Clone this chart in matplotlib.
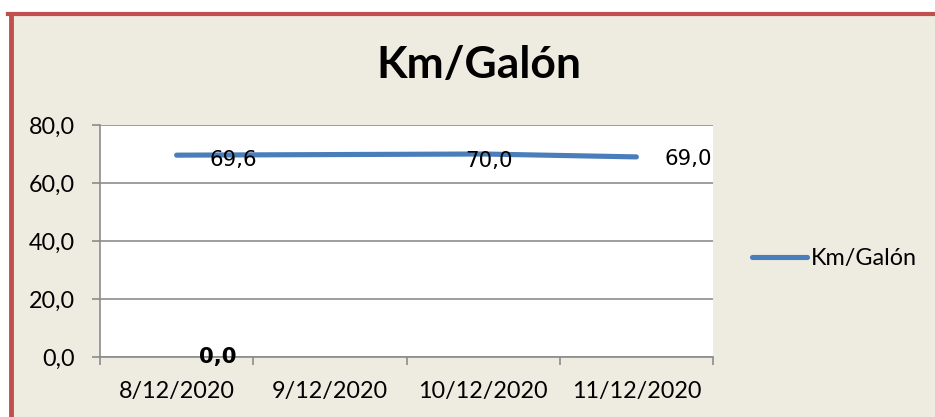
import matplotlib.pyplot as plt
from matplotlib.patches import Rectangle
from matplotlib.lines import Line2D

fechas = ['8/12/2020', '9/12/2020', '10/12/2020', '11/12/2020']
km_galon = [69.6, 69.8, 70.0, 69.0]
etiquetas = ['69,6', '', '70,0', '69,0']
y_ticks = [0, 20, 40, 60, 80]
y_labels = ['0,0', '20,0', '40,0', '60,0', '80,0']

fondo = '#EEEBE0'
azul = '#4A7EBB'
rojo = '#C0504D'
gris = '#8C8C8C'

W, H = 935, 417
fig = plt.figure(figsize=(W / 100, H / 100), dpi=100, facecolor='white')

# chart area background and red border (top + left)
fig.patches.append(Rectangle((10 / W, 0), 1, 1 - 13 / H, transform=fig.transFigure,
                             facecolor=fondo, edgecolor='none', zorder=-2))
fig.lines.append(Line2D([8 / W, 1], [1 - 13.5 / H] * 2, transform=fig.transFigure,
                        color=rojo, lw=3, zorder=-1))
fig.lines.append(Line2D([10.5 / W] * 2, [0, 1 - 13.5 / H], transform=fig.transFigure,
                        color=rojo, lw=3.5, zorder=-1))

ax = fig.add_axes([100 / W, 1 - 357 / H, 613 / W, 232 / H])
ax.set_facecolor('white')

x = list(range(len(fechas)))
ax.plot(x, km_galon, color=azul, lw=3.7, solid_capstyle='round', label='Km/Galón', zorder=3)

offsets = [(41, -3.6), (0, 0), (4.3, -5), (37, -1.5)]
for xi, yi, lab, off in zip(x, km_galon, etiquetas, offsets):
    if lab:
        ax.annotate(lab, (xi, yi), xytext=off, textcoords='offset points',
                    ha='center', va='center', fontsize=15.3, family='DejaVu Sans', zorder=4)
ax.text(0.27, 0, '0,0', ha='center', va='center', fontsize=15.3, fontweight='bold',
        family='DejaVu Sans', zorder=4)

ax.set_xlim(-0.5, len(fechas) - 0.5)
ax.set_ylim(0, 80)
ax.set_yticks(y_ticks)
ax.set_yticklabels(y_labels, family='Lato', fontsize=16.8)
ax.set_xticks(x)
ax.set_xticklabels(fechas, family='Lato', fontsize=16.8)
ax.set_xticks([i - 0.5 for i in range(len(fechas) + 1)], minor=True)
ax.tick_params(axis='x', which='major', length=0, pad=17)
ax.tick_params(axis='x', which='minor', length=6, color=gris, width=1.2)
ax.tick_params(axis='y', length=6, color=gris, width=1.2, pad=12)
ax.grid(axis='y', color=gris, lw=1.2)
ax.set_axisbelow(True)
for s in ['top', 'right']:
    ax.spines[s].set_visible(False)
for s in ['left', 'bottom']:
    ax.spines[s].set_color(gris)
    ax.spines[s].set_linewidth(1.2)

fig.text(479 / W, 1 - 65 / H, 'Km/Galón', ha='center', va='center',
         fontsize=32, fontweight='bold', family='Lato')

ax.legend(loc='center left', bbox_to_anchor=(752 / W, 1 - 259 / H),
          bbox_transform=fig.transFigure, frameon=False, handlelength=2.36,
          handletextpad=0.15, borderpad=0, borderaxespad=0,
          prop={'family': 'Lato', 'size': 16.8})

fig.savefig('out.png', dpi=100, facecolor=fig.get_facecolor())
